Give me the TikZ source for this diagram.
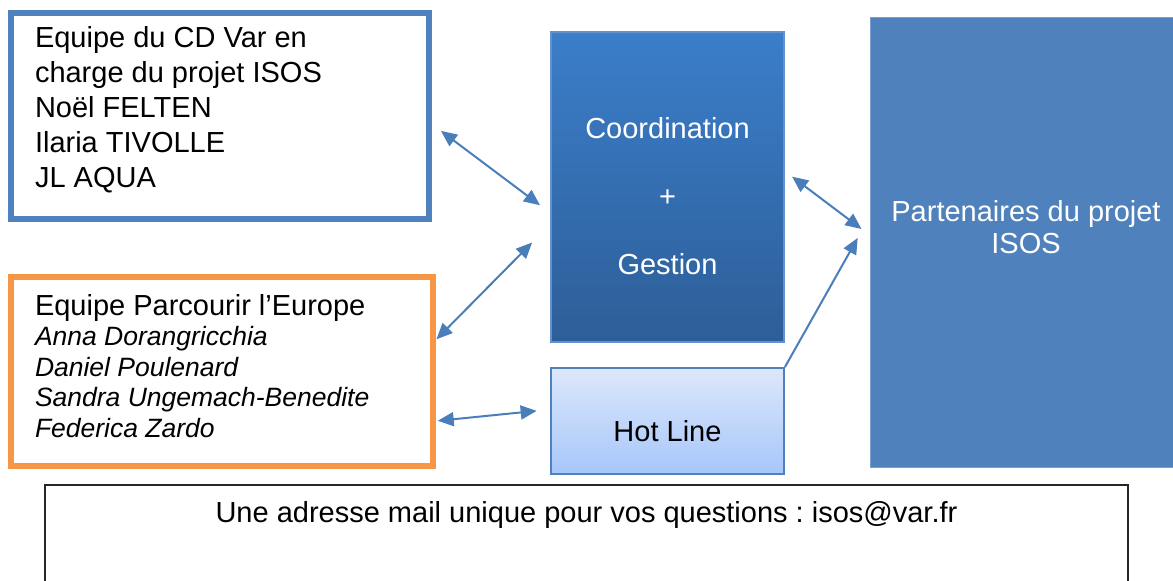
\documentclass[tikz,border=0pt]{standalone}
\usepackage{fontspec}
\setmainfont{Liberation Sans}
\usetikzlibrary{arrows.meta}
\frenchspacing
\definecolor{accblue}{RGB}{79,129,189}
\definecolor{accorange}{RGB}{247,150,70}
\definecolor{arrblue}{RGB}{74,126,187}
\definecolor{coordtop}{RGB}{59,126,202}
\definecolor{coordbot}{RGB}{45,94,152}
\definecolor{coordline}{RGB}{100,145,205}
\definecolor{hottop}{RGB}{221,231,251}
\definecolor{hotbot}{RGB}{166,199,250}
\definecolor{partline}{RGB}{120,160,210}
\tikzset{
  box/.style={rectangle, inner sep=0pt},
  txt/.style={inner sep=0pt, outer sep=0pt},
  big/.style={font=\fontsize{29}{35}\selectfont},
  arr/.style={draw=arrblue, line width=2pt, {Triangle[length=16pt,width=14pt]}-{Triangle[length=16pt,width=14pt]}},
  arrone/.style={draw=arrblue, line width=2pt, -{Triangle[length=16pt,width=14pt]}}
}
\begin{document}
\begin{tikzpicture}[x=1pt,y=-1pt]
\useasboundingbox (0,0) rectangle (1173,581);
% boxes
\node[box, draw=accblue, line width=5.5pt, fill=white, minimum width=418pt, minimum height=206pt] (b1) at (220,116) {};
\node[box, draw=accorange, line width=5.5pt, fill=white, minimum width=422pt, minimum height=189pt] (b2) at (222,371.5) {};
\node[box, draw=coordline, line width=1.2pt, top color=coordtop, bottom color=coordbot, minimum width=233pt, minimum height=310pt] (coord) at (667.5,187) {};
\node[box, draw=accblue, line width=1.8pt, top color=hottop, bottom color=hotbot, minimum width=233pt, minimum height=106pt] (hot) at (667.5,421) {};
\node[box, draw=partline, line width=1pt, fill=accblue, minimum width=312pt, minimum height=450pt] (part) at (1026,242) {};
\node[box, draw=black!85, line width=1.5pt, fill=white, minimum width=1083pt, minimum height=115pt] (mail) at (586.5,542.5) {};
% texts
\node[txt, big, anchor=north west, align=left] (t1) at (35,26) {Equipe du CD Var en\\charge du projet ISOS\\Noël FELTEN\\Ilaria TIVOLLE\\JL AQUA};
\node[txt, font=\fontsize{26.5}{30.5}\selectfont, anchor=north west, align=left] (t2) at (35,294) {{\fontsize{29}{30.5}\selectfont Equipe Parcourir l’Europe}\\\itshape Anna Dorangricchia\\\itshape Daniel Poulenard\\\itshape Sandra Ungemach-Benedite\\\itshape Federica Zardo};
\node[txt, font=\fontsize{29}{68}\selectfont, text=white, anchor=north, align=center] (t3) at (667.5,117) {Coordination\\+\\Gestion};
\node[txt, big, anchor=base] (t4) at (667.5,441) {Hot Line};
\node[txt, font=\fontsize{29}{32.5}\selectfont, text=white, anchor=north, align=center] (t5) at (1026,200) {Partenaires du projet\\ISOS};
\node[txt, big, anchor=base] (t6) at (586.5,522) {Une adresse mail unique pour vos questions : isos@var.fr};
% connectors
\draw[arr, shorten <=11.5pt, shorten >=13pt] (b1.east |- 0,124) -- (coord.west |- 0,213);
\draw[arr, shorten <=1pt, shorten >=26pt] (b2.east |- 0,340) -- (coord.west |- 0,224);
\draw[arr, shorten <=2pt, shorten >=13.5pt] (b2.east |- 0,421) -- (hot.west |- 0,409.5);
\draw[arr, shorten <=9.4pt, shorten >=10pt] (coord.east |- 0,171) -- (part.west |- 0,235);
\draw[arrone, shorten >=24pt] (hot.north east) -- (part.west |- 0,217);
\end{tikzpicture}
\end{document}
